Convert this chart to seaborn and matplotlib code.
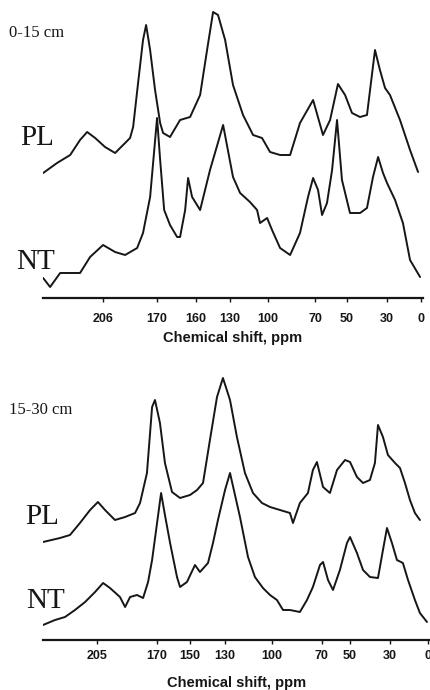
import numpy as np
import pandas as pd
import seaborn as sns
import matplotlib
matplotlib.use("Agg")
import matplotlib.pyplot as plt

# ---- data (ppm, relative intensity above axis) ----
# 0-15 cm
top_pl_ppm = [244.8, 235.8, 227.3, 220.9, 216.3, 211.1, 204.7, 198.2, 191.7, 188.5,
              186.5, 183.3, 180.1, 178.1, 175.5, 172.3, 169.0, 167.1, 162.6, 156.1,
              149.6, 143.1, 138.6, 134.7, 131.5, 126.9, 121.8, 115.3, 108.8, 103.0,
              97.8, 91.3, 84.8, 78.4, 69.9, 63.5, 58.9, 53.8, 49.2, 44.7,
              39.5, 35.0, 29.8, 26.6, 23.3, 20.1, 13.6, 7.1, 1.9]
top_pl_int = [125, 135, 143, 158, 166, 160, 151, 145, 155, 160,
              171, 215, 258, 273, 248, 208, 175, 165, 161, 178,
              181, 203, 248, 286, 283, 258, 213, 183, 163, 160,
              146, 143, 143, 175, 198, 163, 178, 214, 203, 185,
              181, 183, 248, 228, 210, 203, 178, 148, 126]

top_nt_ppm = [244.8, 240.3, 233.8, 220.9, 214.4, 206.0, 198.2, 191.7, 183.9, 180.1,
              175.5, 171.0, 169.0, 166.4, 162.6, 158.0, 156.1, 152.8, 150.9, 148.3,
              143.1, 139.9, 136.7, 128.2, 121.8, 117.2, 110.8, 106.2, 104.3, 99.7,
              96.5, 91.3, 84.8, 78.4, 73.2, 69.9, 66.7, 64.1, 60.9, 57.6,
              54.4, 51.2, 46.0, 39.5, 35.0, 31.1, 27.8, 24.6, 22.0, 16.8,
              11.7, 7.1, 0.6]
top_nt_int = [20, 11, 25, 25, 41, 53, 46, 43, 50, 65,
              101, 180, 138, 88, 73, 61, 61, 88, 120, 101,
              88, 108, 128, 173, 121, 105, 96, 88, 75, 80,
              68, 50, 43, 65, 101, 120, 108, 83, 95, 128,
              178, 118, 85, 85, 90, 121, 141, 125, 115, 98,
              75, 38, 21]

# 15-30 cm
bot_pl_ppm = [239.6, 229.0, 222.8, 216.6, 210.3, 205.4, 201.0, 194.8, 188.5, 182.3,
              179.2, 174.9, 171.7, 169.9, 166.8, 163.7, 159.3, 154.3, 148.1, 143.7,
              140.0, 135.7, 131.3, 127.6, 123.2, 118.9, 113.9, 108.9, 103.3, 98.3,
              92.1, 85.9, 84.0, 79.7, 74.7, 71.6, 69.1, 65.3, 61.0, 56.6,
              51.6, 48.5, 44.2, 40.4, 36.1, 33.0, 31.1, 28.0, 24.9, 20.5,
              17.4, 14.3, 11.2, 8.1, 5.0]
bot_pl_int = [98, 102, 105, 117, 130, 138, 130, 120, 123, 127,
              137, 167, 233, 240, 217, 177, 148, 142, 145, 150,
              157, 200, 243, 262, 240, 203, 167, 147, 137, 133,
              130, 127, 117, 137, 147, 170, 178, 153, 147, 170,
              180, 178, 163, 157, 160, 177, 215, 203, 185, 177,
              172, 157, 140, 127, 120]

bot_nt_ppm = [239.6, 232.1, 225.9, 219.7, 213.4, 207.2, 202.2, 197.9, 191.7, 188.5,
              185.4, 181.1, 177.3, 174.2, 171.7, 166.1, 163.7, 160.5, 156.2, 154.3,
              150.0, 145.0, 141.9, 136.9, 133.8, 130.7, 126.3, 123.2, 117.0, 112.0,
              107.7, 102.7, 98.3, 94.0, 90.2, 85.9, 79.7, 75.3, 71.6, 67.2,
              65.3, 62.2, 59.1, 54.8, 50.4, 48.5, 44.2, 40.4, 36.1, 31.1,
              28.0, 25.5, 22.4, 19.3, 15.6, 12.4, 8.1, 5.0, 0.6]
bot_nt_int = [15, 20, 23, 30, 38, 48, 57, 52, 43, 33,
              43, 45, 42, 58, 80, 147, 125, 97, 63, 53,
              58, 75, 68, 77, 97, 120, 150, 167, 123, 83,
              63, 52, 45, 40, 30, 30, 28, 40, 53, 75,
              78, 60, 50, 70, 97, 103, 87, 70, 63, 62,
              90, 112, 97, 80, 77, 60, 40, 27, 18]

# ticks in the original are hand placed (not evenly spaced), positions read off the scan
top_tick_pos = [206.0, 171.0, 145.7, 123.7, 99.1, 68.7, 47.9, 22.0, 0.0]
top_tick_labels = ["206", "170", "160", "130", "100", "70", "50", "30", "0"]
bot_tick_pos = [206.0, 168.6, 148.1, 126.3, 97.1, 66.0, 48.5, 23.6, 0.0]
bot_tick_labels = ["205", "170", "150", "130", "100", "70", "50", "30", "0"]

depths = ["0-15 cm", "15-30 cm"]
treatments = ["PL", "NT"]

sns.set_style("white")
plt.rcParams['font.family'] = ['Liberation Sans', 'DejaVu Sans']

W, H = 431, 690
fig = plt.figure(figsize=(W / 100, H / 100), dpi=100)

# axes rectangles from pixel positions
ax_top = fig.add_axes([43 / W, (H - 298) / H, 380 / W, 298 / H])
ax_bot = fig.add_axes([43 / W, (H - 640) / H, 388 / W, 290 / H])

line_kw = dict(color="#161616", linewidth=1.4, estimator=None, legend=False)

sns.lineplot(x=top_pl_ppm, y=top_pl_int, ax=ax_top, **line_kw)
sns.lineplot(x=top_nt_ppm, y=top_nt_int, ax=ax_top, **line_kw)
sns.lineplot(x=bot_pl_ppm, y=bot_pl_int, ax=ax_bot, **line_kw)
sns.lineplot(x=bot_nt_ppm, y=bot_nt_int, ax=ax_bot, **line_kw)

ax_top.set_xlim(244.9, -1.3)
ax_top.set_ylim(0, 298)
ax_bot.set_xlim(239.6, -1.9)
ax_bot.set_ylim(0, 290)

for ax, ticks, labels, pad, lpad in [(ax_top, top_tick_pos, top_tick_labels, 8, 4),
                                      (ax_bot, bot_tick_pos, bot_tick_labels, 4, 10)]:
    for s in ["left", "top", "right"]:
        ax.spines[s].set_visible(False)
    ax.spines["bottom"].set_linewidth(1.6)
    ax.spines["bottom"].set_color("#161616")
    ax.set_yticks([])
    ax.set_xticks(ticks)
    ax.set_xticklabels(labels, fontsize=9, fontweight="bold", color="#161616")
    ax.tick_params(axis="x", direction="out", length=3, width=1, pad=pad,
                   bottom=True, color="#161616")
    ax.set_xlabel("Chemical shift, ppm", fontsize=10.5, fontweight="bold",
                  color="#161616", labelpad=lpad)
    ax.set_ylabel("")
    ax.patch.set_alpha(0)

serif = ['Liberation Serif', 'DejaVu Serif']

def px_text(x, y, s, size):
    fig.text(x / W, 1 - y / H, s, fontsize=size, family=serif,
             color="#161616", va="center", ha="left")

px_text(9, 33, depths[0], 12)
px_text(20, 138, treatments[0], 21)
px_text(16, 262, treatments[1], 21)
px_text(9, 410, depths[1], 12)
px_text(25, 517, treatments[0], 21)
px_text(26, 601, treatments[1], 21)

fig.savefig("out.png", dpi=100)
